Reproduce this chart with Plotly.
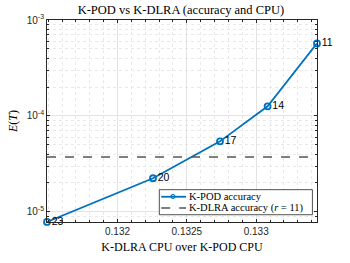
import math
import plotly.graph_objects as go

# Data
ranks = ["23", "20", "17", "14", "11"]
cpu_ratio = [0.131492, 0.132256, 0.132739, 0.133082, 0.133438]
kpod_acc = [7.85e-6, 2.24e-5, 5.43e-5, 1.26e-4, 5.70e-4]
kdlra_acc = 3.72e-5
x_tickvals = [0.132, 0.1325, 0.133]
x_ticktext = ["0.132", "0.1325", "0.133"]
y_tickvals = [1e-5, 1e-4, 1e-3]
y_ticktext = ["10<sup>-5</sup>", "10<sup>-4</sup>", "10<sup>-3</sup>"]
legend_labels = ["K-POD accuracy", "K-DLRA accuracy (<i>r</i> = 11)"]

blue = "#0072BD"
gray = "#555555"
axis_col = "#262626"
serif = "Liberation Serif"
sans = "Liberation Sans"

fig = go.Figure()
fig.add_trace(go.Scatter(
    x=cpu_ratio, y=kpod_acc, mode="lines+markers+text",
    text=ranks, textposition="middle right",
    textfont=dict(family=sans, size=10.5, color="#000000"),
    line=dict(color=blue, width=1.8),
    marker=dict(symbol="circle-open", size=6, color=blue, line=dict(width=1.8, color=blue)),
    name=legend_labels[0], cliponaxis=False, showlegend=False,
))
fig.add_trace(go.Scatter(
    x=[min(cpu_ratio), max(cpu_ratio)], y=[kdlra_acc, kdlra_acc], mode="lines",
    line=dict(color=gray, width=1.5, dash="dash"),
    name=legend_labels[1], showlegend=False,
))

# Compact MATLAB-style legend box (layout decoration)
lx0, lx1, ly0, ly1 = 0.416, 0.983, 0.036, 0.160
row_y = [0.125, 0.069]
sx0, sx1, smid, tx = 0.423, 0.515, 0.466, 0.52
fig.add_shape(type="rect", xref="paper", yref="paper", x0=lx0, x1=lx1, y0=ly0, y1=ly1,
              line=dict(color=axis_col, width=0.8), fillcolor="white", layer="above")
fig.add_shape(type="line", xref="paper", yref="paper", x0=sx0, x1=sx1, y0=row_y[0], y1=row_y[0],
              line=dict(color=blue, width=1.8), layer="above")
fig.add_annotation(xref="paper", yref="paper", x=smid, y=row_y[0], text="<b>o</b>", showarrow=False,
                   font=dict(family=sans, size=9, color=blue), xanchor="center", yanchor="middle",
                   yshift=1)
fig.add_shape(type="line", xref="paper", yref="paper", x0=sx0, x1=sx1, y0=row_y[1], y1=row_y[1],
              line=dict(color=gray, width=1.5, dash="dash"), layer="above")
for lab, yy in zip(legend_labels, row_y):
    fig.add_annotation(xref="paper", yref="paper", x=tx, y=yy, text=lab, showarrow=False,
                       font=dict(family=serif, size=10.5, color="#000000"),
                       xanchor="left", yanchor="middle")

fig.update_layout(
    width=350, height=263,
    margin=dict(l=45, r=33, t=20, b=34),
    paper_bgcolor="white", plot_bgcolor="white",
    title=dict(text="K-POD vs K-DLRA (accuracy and CPU)", x=0.517, xanchor="center",
               y=0.962, yanchor="middle", font=dict(family=serif, size=12.5, color="#000000")),
    showlegend=False,
)
pad = 1.5e-7
fig.update_xaxes(
    range=[min(cpu_ratio) - pad, max(cpu_ratio) + pad],
    tickvals=x_tickvals, ticktext=x_ticktext,
    tickfont=dict(family=sans, size=10, color=axis_col),
    ticks="inside", ticklen=3, tickcolor=axis_col,
    showline=True, linecolor=axis_col, linewidth=0.8, mirror="ticks",
    showgrid=True, gridcolor="#e3e3e3", gridwidth=0.8,
    minor=dict(dtick=0.0001, tick0=0.132, ticks="inside", ticklen=2, tickcolor=axis_col,
               showgrid=True, gridcolor="#e8e8e8", griddash="dot", gridwidth=0.6),
    zeroline=False,
    title=dict(text="K-DLRA CPU over K-POD CPU", font=dict(family=serif, size=12, color="#000000"),
               standoff=6),
)
fig.update_yaxes(
    type="log", range=[math.log10(min(kpod_acc)) - 0.001, -3],
    tickvals=y_tickvals, ticktext=y_ticktext,
    tickfont=dict(family=sans, size=10, color=axis_col),
    ticks="inside", ticklen=3, tickcolor=axis_col,
    showline=True, linecolor=axis_col, linewidth=0.8, mirror="ticks",
    showgrid=True, gridcolor="#e3e3e3", gridwidth=0.8,
    minor=dict(dtick="D1", ticks="inside", ticklen=2, tickcolor=axis_col,
               showgrid=True, gridcolor="#e8e8e8", griddash="dot", gridwidth=0.6),
    zeroline=False,
    title=dict(text="<i>E</i>(<i>T</i>)", font=dict(family=serif, size=12, color="#000000"),
               standoff=6),
)

fig.write_html("out.html", config={"displayModeBar": False},
               post_script="document.body.style.margin='0px';")
